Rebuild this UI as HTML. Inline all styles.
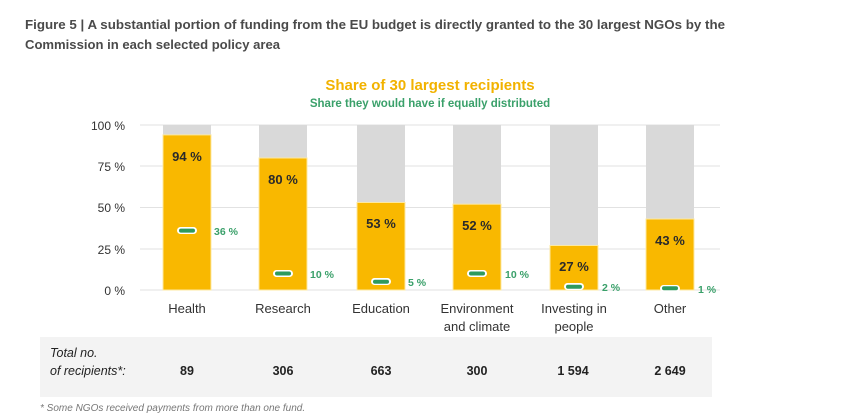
<!DOCTYPE html>
<html><head><meta charset="utf-8"><style>
html,body{margin:0;padding:0;background:#fff;}
svg{display:block;font-family:"Liberation Sans",sans-serif;}
</style></head><body>
<svg width="854" height="419" viewBox="0 0 854 419" xmlns="http://www.w3.org/2000/svg">
<text x="25" y="29" font-size="12.5" font-weight="bold" fill="#4a4a4a" textLength="700" lengthAdjust="spacingAndGlyphs">Figure 5 | A substantial portion of funding from the EU budget is directly granted to the 30 largest NGOs by the</text>
<text x="25" y="49" font-size="12.5" font-weight="bold" fill="#4a4a4a" textLength="255" lengthAdjust="spacingAndGlyphs">Commission in each selected policy area</text>
<text x="430" y="90" font-size="15" font-weight="bold" fill="#f2b200" text-anchor="middle">Share of 30 largest recipients</text>
<text x="430" y="107" font-size="11.5" font-weight="bold" fill="#3aa06a" text-anchor="middle">Share they would have if equally distributed</text>
<g stroke="#e2e2e2" stroke-width="1">
<line x1="140" x2="720" y1="125" y2="125"/><line x1="140" x2="720" y1="166" y2="166"/>
<line x1="140" x2="720" y1="207.5" y2="207.5"/><line x1="140" x2="720" y1="249" y2="249"/>
<line x1="140" x2="720" y1="290" y2="290"/></g>
<g font-size="12" fill="#333" text-anchor="end">
<text x="125" y="130">100 %</text><text x="125" y="171">75 %</text><text x="125" y="212">50 %</text><text x="125" y="254">25 %</text><text x="125" y="295">0 %</text></g>

<g fill="#d9d9d9">
<rect x="163" y="125" width="48" height="165"/><rect x="259" y="125" width="48" height="165"/>
<rect x="357" y="125" width="48" height="165"/><rect x="453" y="125" width="48" height="165"/>
<rect x="550" y="125" width="48" height="165"/><rect x="646" y="125" width="48" height="165"/></g>
<g fill="#f9b800" stroke="#fde9a0" stroke-width="1">
<rect x="163" y="134.9" width="48" height="155.1"/><rect x="259" y="158" width="48" height="132"/>
<rect x="357" y="202.5" width="48" height="87.5"/><rect x="453" y="204.2" width="48" height="85.8"/>
<rect x="550" y="245.5" width="48" height="44.5"/><rect x="646" y="219" width="48" height="71"/></g>
<g font-size="13" font-weight="bold" fill="#2a2a2a" text-anchor="middle">
<text x="187" y="161">94 %</text><text x="283" y="184">80 %</text><text x="381" y="228">53 %</text>
<text x="477" y="230">52 %</text><text x="574" y="271">27 %</text><text x="670" y="245">43 %</text></g>
<g fill="#fff">
<rect x="177" y="227" width="20" height="7" rx="3.5"/><rect x="273" y="270" width="20" height="7" rx="3.5"/>
<rect x="371" y="278" width="20" height="7" rx="3.5"/><rect x="467" y="270" width="20" height="7" rx="3.5"/>
<rect x="564" y="283" width="20" height="7" rx="3.5"/><rect x="660" y="285" width="20" height="7" rx="3.5"/></g>
<g fill="#2e9a5e">
<rect x="179" y="228.6" width="16" height="4" rx="2"/><rect x="275" y="271.5" width="16" height="4" rx="2"/>
<rect x="373" y="279.7" width="16" height="4" rx="2"/><rect x="469" y="271.5" width="16" height="4" rx="2"/>
<rect x="566" y="284.7" width="16" height="4" rx="2"/><rect x="662" y="286.3" width="16" height="4" rx="2"/></g>
<g font-size="10.5" font-weight="bold" fill="#3aa06a">
<text x="214" y="235">36 %</text><text x="310" y="278">10 %</text><text x="408" y="286">5 %</text>
<text x="505" y="278">10 %</text><text x="602" y="291">2 %</text><text x="698" y="293">1 %</text></g>
<g font-size="13" fill="#333" text-anchor="middle">
<text x="187" y="313">Health</text><text x="283" y="313">Research</text><text x="381" y="313">Education</text>
<text x="477" y="313">Environment</text><text x="477" y="331">and climate</text>
<text x="574" y="313">Investing in</text><text x="574" y="331">people</text><text x="670" y="313">Other</text></g>

<rect x="40" y="337" width="672" height="60" fill="#f3f3f3"/>
<text x="50" y="357" font-size="12.5" font-style="italic" fill="#222">Total no.</text>
<text x="50" y="375" font-size="12.5" font-style="italic" fill="#222">of recipients*:</text>
<g font-size="12.5" font-weight="bold" fill="#222" text-anchor="middle">
<text x="187" y="375">89</text><text x="283" y="375">306</text><text x="381" y="375">663</text><text x="477" y="375">300</text><text x="573" y="375">1 594</text><text x="670" y="375">2 649</text></g>
<text x="40" y="411" font-size="10" font-style="italic" fill="#777">* Some NGOs received payments from more than one fund.</text>
</svg>
</body></html>
